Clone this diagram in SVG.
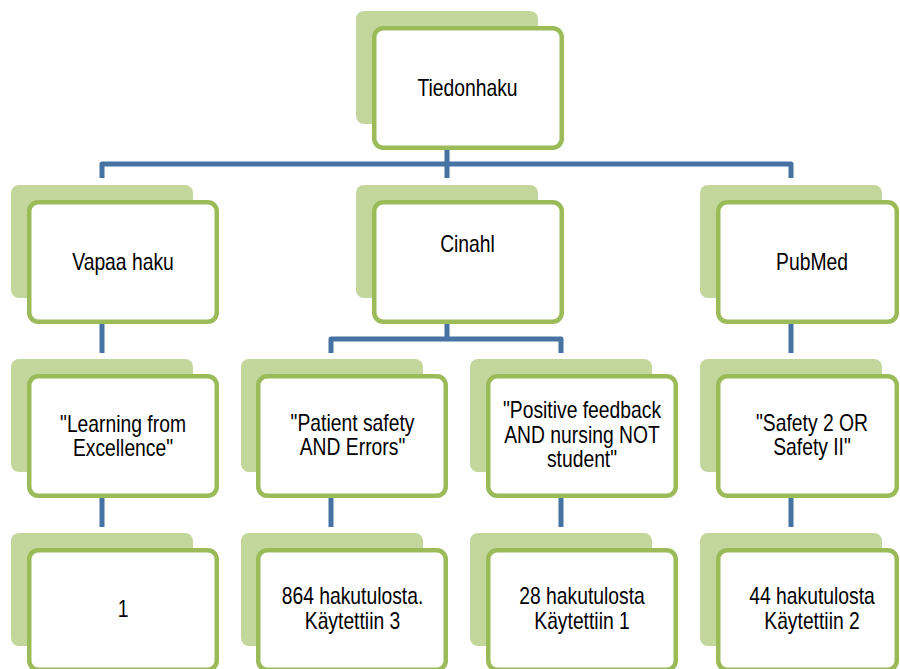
<svg xmlns="http://www.w3.org/2000/svg" width="900" height="669" viewBox="0 0 900 669">
<style>
.sh{fill:#c3d69b;}
.bx{fill:#ffffff;stroke:#9bbb59;stroke-width:4.5;}
.cn{fill:none;stroke:#4672a4;stroke-width:5;stroke-linejoin:round;}
.t{font-family:"Liberation Sans",Arial,sans-serif;font-size:23px;fill:#000;text-anchor:middle;}
</style>
<rect width="900" height="669" fill="#ffffff"/>
<g id="connectors">
<path class="cn" d="M447,148 V164 M102,178 V164 H791 V178 M447,164 V178"/>
<path class="cn" d="M102,324 V353"/>
<path class="cn" d="M447,322 V339 M331,353 V339 H561 V353"/>
<path class="cn" d="M791,324 V353"/>
<path class="cn" d="M102,497 V527 M331,497 V527 M561,497 V527 M791,497 V527"/>
</g>
<g id="n-tiedonhaku">
<rect class="sh" x="356" y="11" width="182" height="113" rx="8"/>
<rect class="bx" x="374.25" y="28.25" width="187.5" height="119.5" rx="9"/>
<text class="t" transform="translate(467.5,0) scale(0.84,1)" x="0" y="96">Tiedonhaku</text>
</g>
<g id="n-vapaa">
<rect class="sh" x="11" y="185" width="182" height="113" rx="8"/>
<rect class="bx" x="29.25" y="202.25" width="187.5" height="119.5" rx="9"/>
<text class="t" transform="translate(123,0) scale(0.84,1)" x="0" y="270">Vapaa haku</text>
</g>
<g id="n-cinahl">
<rect class="sh" x="356" y="185" width="182" height="113" rx="8"/>
<rect class="bx" x="374.25" y="202.25" width="187.5" height="119.5" rx="9"/>
<text class="t" transform="translate(467.5,0) scale(0.84,1)" x="0" y="252">Cinahl</text>
</g>
<g id="n-pubmed">
<rect class="sh" x="700" y="185" width="182" height="113" rx="8"/>
<rect class="bx" x="718.25" y="202.25" width="178.5" height="119.5" rx="9"/>
<text class="t" transform="translate(812,0) scale(0.84,1)" x="0" y="270">PubMed</text>
</g>
<g id="n-learning">
<rect class="sh" x="11" y="359" width="182" height="113" rx="8"/>
<rect class="bx" x="29.25" y="376.25" width="187.5" height="119.5" rx="9"/>
<text class="t" transform="translate(123,0) scale(0.84,1)" x="0" y="432"><tspan x="0">"Learning from</tspan><tspan x="0" dy="24.5">Excellence"</tspan></text>
</g>
<g id="n-patient">
<rect class="sh" x="241" y="359" width="182" height="113" rx="8"/>
<rect class="bx" x="258.25" y="376.25" width="187.5" height="119.5" rx="9"/>
<text class="t" transform="translate(352.5,0) scale(0.84,1)" x="0" y="431"><tspan x="0">"Patient safety</tspan><tspan x="0" dy="24.5">AND Errors"</tspan></text>
</g>
<g id="n-positive">
<rect class="sh" x="470" y="359" width="182" height="113" rx="8"/>
<rect class="bx" x="488.25" y="376.25" width="187.5" height="119.5" rx="9"/>
<text class="t" transform="translate(582,0) scale(0.84,1)" x="0" y="418.5"><tspan x="0">"Positive feedback</tspan><tspan x="0" dy="24.5">AND nursing NOT</tspan><tspan x="0" dy="24.5">student"</tspan></text>
</g>
<g id="n-safety">
<rect class="sh" x="700" y="359" width="182" height="113" rx="8"/>
<rect class="bx" x="718.25" y="376.25" width="178.5" height="119.5" rx="9"/>
<text class="t" transform="translate(812,0) scale(0.84,1)" x="0" y="431"><tspan x="0">"Safety 2 OR</tspan><tspan x="0" dy="24.5">Safety II"</tspan></text>
</g>
<g id="n-1">
<rect class="sh" x="11" y="533" width="182" height="113" rx="8"/>
<rect class="bx" x="29.25" y="550.25" width="187.5" height="119.5" rx="9"/>
<text class="t" transform="translate(123,0) scale(0.84,1)" x="0" y="617">1</text>
</g>
<g id="n-864">
<rect class="sh" x="241" y="533" width="182" height="113" rx="8"/>
<rect class="bx" x="258.25" y="550.25" width="187.5" height="119.5" rx="9"/>
<text class="t" transform="translate(352.5,0) scale(0.84,1)" x="0" y="604"><tspan x="0">864 hakutulosta.</tspan><tspan x="0" dy="25">Käytettiin 3</tspan></text>
</g>
<g id="n-28">
<rect class="sh" x="470" y="533" width="182" height="113" rx="8"/>
<rect class="bx" x="488.25" y="550.25" width="187.5" height="119.5" rx="9"/>
<text class="t" transform="translate(582,0) scale(0.84,1)" x="0" y="604"><tspan x="0">28 hakutulosta</tspan><tspan x="0" dy="25">Käytettiin 1</tspan></text>
</g>
<g id="n-44">
<rect class="sh" x="700" y="533" width="182" height="113" rx="8"/>
<rect class="bx" x="718.25" y="550.25" width="178.5" height="119.5" rx="9"/>
<text class="t" transform="translate(812,0) scale(0.84,1)" x="0" y="604"><tspan x="0">44 hakutulosta</tspan><tspan x="0" dy="25">Käytettiin 2</tspan></text>
</g>
</svg>
